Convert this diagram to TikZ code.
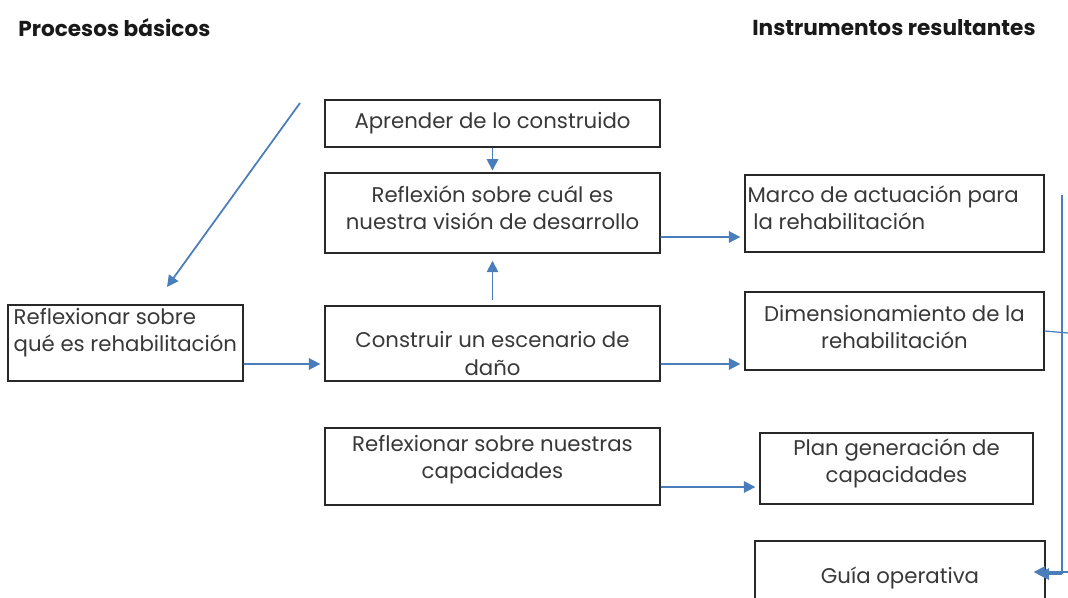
\documentclass[tikz,border=0pt]{standalone}
\usepackage{fontspec}
\setmainfont{Poppins}
\usetikzlibrary{arrows.meta,calc}

\definecolor{arrblue}{RGB}{74,126,187}
\definecolor{boxgray}{RGB}{40,40,40}

\tikzset{
  box/.style={draw=boxgray, line width=0.8pt, inner sep=0pt},
  txt/.style={inner sep=0pt, align=center, text=black!78,
    font=\fontsize{12.1}{15.4}\selectfont},
  head/.style={inner sep=0pt, anchor=west, text=black!90,
    font=\bfseries\fontsize{12.3}{14}\selectfont},
  arr/.style={draw=arrblue, line width=1pt, -{Triangle[length=6.5pt,width=6.5pt]}},
  line/.style={draw=arrblue, line width=0.7pt}
}

\begin{document}
\begin{tikzpicture}[x=0.02cm, y=-0.02cm]
  \useasboundingbox (0,0) rectangle (1068,598);

  % titulos
  \node[head] (h1) at (18,28) {Procesos básicos};
  \node[head] (h2) at (752,28) {Instrumentos resultantes};

  % cajas
  \node[box, minimum width=6.7cm, minimum height=0.94cm] (apr) at (492.5,123.5) {};
  \node[box, minimum width=6.7cm, minimum height=1.6cm] (vis) at (492.5,213) {};
  \node[box, minimum width=6.7cm, minimum height=1.5cm] (esc) at (492.5,343.5) {};
  \node[box, minimum width=6.7cm, minimum height=1.54cm] (cap) at (492.5,466.5) {};
  \node[box, minimum width=4.7cm, minimum height=1.52cm] (reh) at (125.5,343) {};

  \node[box, minimum width=5.98cm, minimum height=1.54cm] (mar) at (894.5,213.5) {};
  \node[box, minimum width=5.98cm, minimum height=1.56cm] (dim) at (894.5,331) {};
  \node[box, minimum width=5.46cm, minimum height=1.42cm] (pla) at (896.5,468.5) {};
  \node[box, minimum width=5.8cm, minimum height=1.4cm] (gui) at (900,576) {};

  % textos
  \node[txt] (apr-t) at (apr) {Aprender de lo construido};
  \node[txt] (vis-t) at ($(vis)+(0,-5)$) {Reflexión sobre cuál es\\nuestra visión de desarrollo};
  \node[txt] (esc-t) at ($(esc)+(0,10)$) {Construir un escenario de\\daño};
  \node[txt] (cap-t) at ($(cap)+(0,-7)$) {Reflexionar sobre nuestras\\capacidades};
  \node[txt, align=left, anchor=west] (reh-t) at ($(reh.west)+(6,-10)$) {Reflexionar sobre\\qué es rehabilitación};
  \node[txt, align=left, anchor=west] (mar-t) at ($(mar.west)+(3,-6)$) {Marco de actuación para\\\ la rehabilitación};
  \node[txt] (dim-t) at ($(dim)+(0,-4)$) {Dimensionamiento de la\\rehabilitación};
  \node[txt] (pla-t) at ($(pla)+(0,-5)$) {Plan generación de\\capacidades};
  \node[txt] (gui-t) at ($(gui)+(0,2)$) {Guía operativa};

  % flechas
  \draw[arr, shorten >=1pt] (apr) -- (vis);
  \draw[arr, shorten <=3pt, shorten >=4pt] (esc) -- (vis);

  \coordinate (d1) at (300,103);
  \coordinate (d2) at (167,287);
  \draw[arr] (d1) -- (d2);

  \draw[arr] ($(reh.east)+(0,21)$) -- ($(esc.west)+(-4,20.5)$);
  \draw[arr] ($(vis.east)+(0,24)$) -- ($(mar.west)+(-4,23.5)$);
  \draw[arr] ($(esc.east)+(0,20.5)$) -- ($(dim.west)+(-4,33)$);
  \draw[arr] ($(cap.east)+(0,20.5)$) -- ($(pla.west)+(-4,18.5)$);

  % lado derecho
  \coordinate (r1) at (1062,195);
  \coordinate (r2) at (1062,574);
  \coordinate (r3) at (1068,572);
  \draw[line] (dim.east) -- (1068,333);
  \draw[line] (r1) -- (r2);
  \draw[arr] (r2) -- ($(gui.east)+(-8,-2)$);
  \draw[arr] (r3) -- ($(gui.east)+(-12,-4)$);

\end{tikzpicture}
\end{document}
